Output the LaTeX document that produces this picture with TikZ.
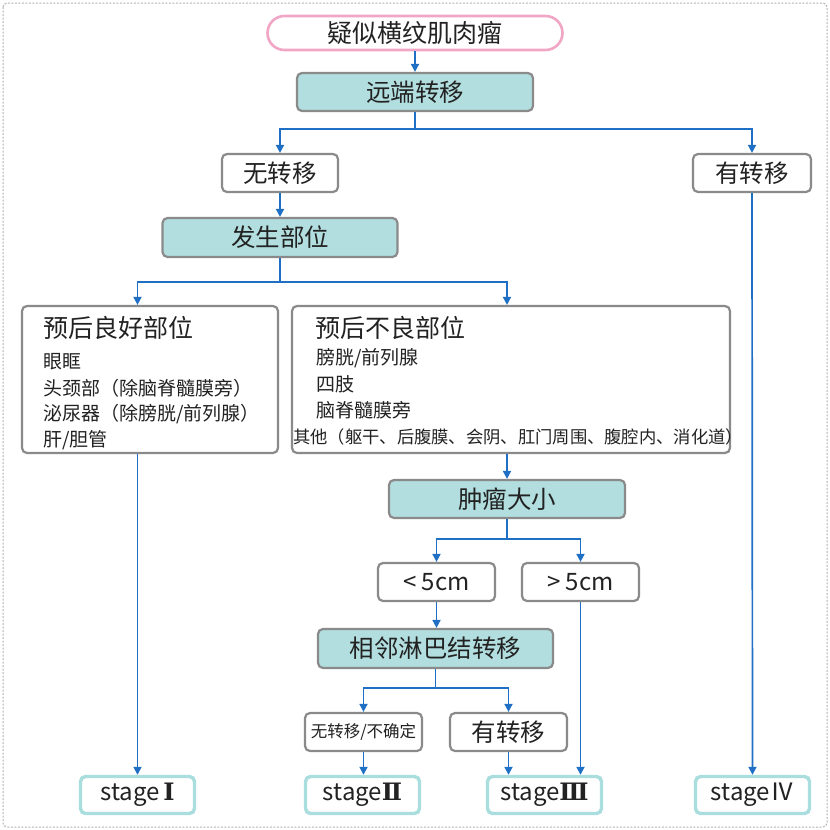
\documentclass[tikz,border=0pt]{standalone}
\usepackage{fontspec}
\setmainfont{Noto Sans CJK SC}
\newfontfamily\romanfont{DejaVu Serif}
\usetikzlibrary{arrows.meta}
\definecolor{tealfill}{HTML}{B2DEDF}
\definecolor{boxgray}{HTML}{8A8A8A}
\definecolor{pinkb}{HTML}{F0A6C4}
\definecolor{stageb}{HTML}{A9DDDE}
\definecolor{arrowblue}{HTML}{1F6FC4}
\definecolor{txt}{HTML}{222222}
\tikzset{
  basebox/.style={draw=boxgray, line width=2.2pt, rounded corners=5pt, inner sep=0pt, text=txt, font=\fontsize{24.5}{26}\selectfont},
  tealbox/.style={basebox, fill=tealfill},
  whitebox/.style={basebox, fill=white},
  stagebox/.style={draw=stageb, line width=3.4pt, rounded corners=5pt, fill=white, inner sep=0pt, text=txt, minimum width=114pt, minimum height=37pt, font=\fontsize{24}{26}\selectfont},
  arr/.style={draw=arrowblue, line width=1.7pt, -{Triangle[length=8pt,width=8pt]}},
  itemtxt/.style={anchor=west, inner sep=0pt, text=txt, font=\fontsize{19}{21}\selectfont},
  titletxt/.style={anchor=west, inner sep=0pt, text=txt, font=\fontsize{25}{27}\selectfont}
}
\begin{document}
\begin{tikzpicture}[x=1pt,y=-1pt]
\useasboundingbox (0,0) rectangle (830,830);
\draw[gray!60, dash pattern=on 2pt off 1.5pt, line width=1pt, rounded corners=4pt] (3,3) rectangle (827,827);

% nodes
\node[draw=pinkb, line width=2.6pt, rounded corners=17pt, fill=white, minimum width=295pt, minimum height=34pt, inner sep=0pt, text=txt, font=\fontsize{25}{27}\selectfont] (n1) at (415,33) {疑似横纹肌肉瘤};
\node[tealbox, minimum width=236pt, minimum height=38pt] (n2) at (415,92) {远端转移};
\node[whitebox, minimum width=116pt, minimum height=38pt] (n3) at (280,173) {无转移};
\node[whitebox, minimum width=118pt, minimum height=38pt] (n4) at (752,173) {有转移};
\node[tealbox, minimum width=235pt, minimum height=39pt] (n5) at (280,237.5) {发生部位};
\node[whitebox, minimum width=256pt, minimum height=147pt] (n6) at (150,379.5) {};
\node[whitebox, minimum width=438pt, minimum height=147pt] (n7) at (511,379.5) {};
\node[tealbox, minimum width=236pt, minimum height=38pt] (n8) at (507,499) {肿瘤大小};
\node[whitebox, minimum width=117pt, minimum height=38pt, font=\fontsize{24}{26}\selectfont] (n9) at (436.5,582) {< 5cm};
\node[whitebox, minimum width=117pt, minimum height=38pt, font=\fontsize{24}{26}\selectfont] (n10) at (580.5,582) {> 5cm};
\node[tealbox, minimum width=235pt, minimum height=39pt] (n11) at (435.5,648.5) {相邻淋巴结转移};
\node[whitebox, minimum width=117pt, minimum height=38pt, font=\fontsize{16.5}{18}\selectfont] (n12) at (363.5,732) {无转移/不确定};
\node[whitebox, minimum width=117pt, minimum height=38pt] (n13) at (508.5,732) {有转移};
\node[stagebox] (s1) at (137.5,795) {stage\,{\romanfont\bfseries Ⅰ}};
\node[stagebox] (s2) at (362.5,795) {stage{\romanfont\bfseries Ⅱ}};
\node[stagebox] (s3) at (544.5,795) {stage{\romanfont\bfseries Ⅲ}};
\node[stagebox] (s4) at (752.5,795) {stageⅣ};

% texts inside big boxes
\node[titletxt] (t6) at (43,328) {预后良好部位};
\node[itemtxt] (t6a) at (43,362) {眼眶};
\node[itemtxt] (t6b) at (43,388) {头颈部（除脑脊髓膜旁）};
\node[itemtxt] (t6c) at (43,414) {泌尿器（除膀胱/前列腺）};
\node[itemtxt] (t6d) at (43,440) {肝/胆管};
\node[titletxt] (t7) at (315,328) {预后不良部位};
\node[itemtxt] (t7a) at (316,358) {膀胱/前列腺};
\node[itemtxt] (t7b) at (316,384) {四肢};
\node[itemtxt] (t7c) at (316,410) {脑脊髓膜旁};
\node[itemtxt, font=\fontsize{17.3}{19}\selectfont] (t7d) at (293,437) {其他（躯干、后腹膜、会阴、肛门周围、腹腔内、消化道）};

% connectors
\draw[arr] (n1.south) -- (n2.north);
\draw[arr] (n2.south) -- ++(0,17) -| (n3.north);
\draw[arr] (n2.south) -- ++(0,17) -| (n4.north);
\draw[arr] (n3.south) -- (n5.north);
\draw[arr] (n5.south) -- ++(0,24) -| (s1.north |- n6.north);
\draw[arr] (n5.south) -- ++(0,24) -| (n8.north |- n7.north);
\draw[arr] (s1.north |- n6.south) -- (s1.north);
\draw[arr] (n8.north |- n7.south) -- (n8.north);
\draw[arr] (n8.south) -- ++(0,20) -| (n9.north);
\draw[arr] (n8.south) -- ++(0,20) -| (n10.north);
\draw[arr] (n9.south) -- (n9.south |- n11.north);
\draw[arr] (n10.south) -- (n10.south |- s3.north);
\draw[arr] (n11.south) -- ++(0,19) -| (n12.north);
\draw[arr] (n11.south) -- ++(0,19) -| (n13.north);
\draw[arr] (n12.south) -- (n12.south |- s2.north);
\draw[arr] (n13.south) -- (n13.south |- s3.north);
\draw[arr] (n4.south) -- (s4.north);
\end{tikzpicture}
\end{document}
